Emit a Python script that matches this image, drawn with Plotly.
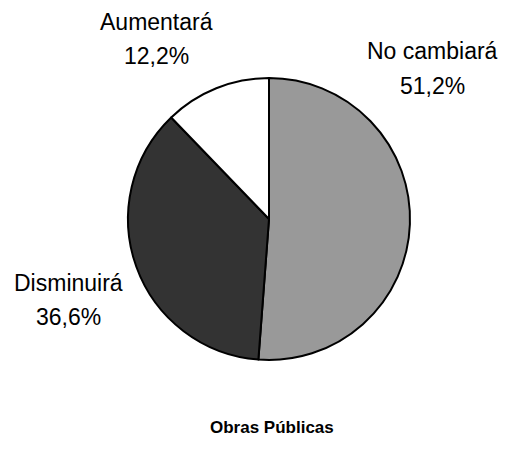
import plotly.graph_objects as go

categories = ["No cambiará", "Disminuirá", "Aumentará"]
values = [51.2, 36.6, 12.2]
colors = ["#999999", "#333333", "#ffffff"]
title = "Obras Públicas"

W, H = 509, 461
OFF = 8  # page body margin offset
cx, cy, r = 269 - OFF, 219 - OFF, 141

def px(x):
    return (x - OFF) / W

def py(y):
    return 1 - (y - OFF) / H

fig = go.Figure(go.Pie(
    labels=categories,
    values=values,
    sort=False,
    direction="clockwise",
    rotation=0,
    textinfo="none",
    hoverinfo="label+percent",
    marker=dict(colors=colors, line=dict(color="#000000", width=2)),
    domain=dict(x=[(cx - r) / W, (cx + r) / W], y=[(H - cy - r) / H, (H - cy + r) / H]),
    showlegend=False,
))

# label positions (pixels in page): x center, y center of first line, y center of second line
label_pos = [(432, 51, 86), (68, 283, 317), (156, 22, 56)]
font = dict(family="Liberation Sans, Arial", size=23, color="#000000")
for cat, v, (lx, ly1, ly2) in zip(categories, values, label_pos):
    pct = f"{v:.1f}%".replace(".", ",")
    for txt, yy in ((cat, ly1), (pct, ly2)):
        fig.add_annotation(
            x=px(lx), y=py(yy), xref="paper", yref="paper",
            text=txt, showarrow=False, align="center",
            font=font, xanchor="center", yanchor="middle",
        )

fig.add_annotation(
    x=px(272), y=py(427), xref="paper", yref="paper",
    text=f"<b>{title}</b>", showarrow=False,
    font=dict(family="Liberation Sans, Arial", size=17, color="#000000"),
    xanchor="center", yanchor="middle",
)

fig.update_layout(
    width=W, height=H,
    margin=dict(l=0, r=0, t=0, b=0),
    paper_bgcolor="#ffffff",
    plot_bgcolor="#ffffff",
)

fig.write_html("out.html")
